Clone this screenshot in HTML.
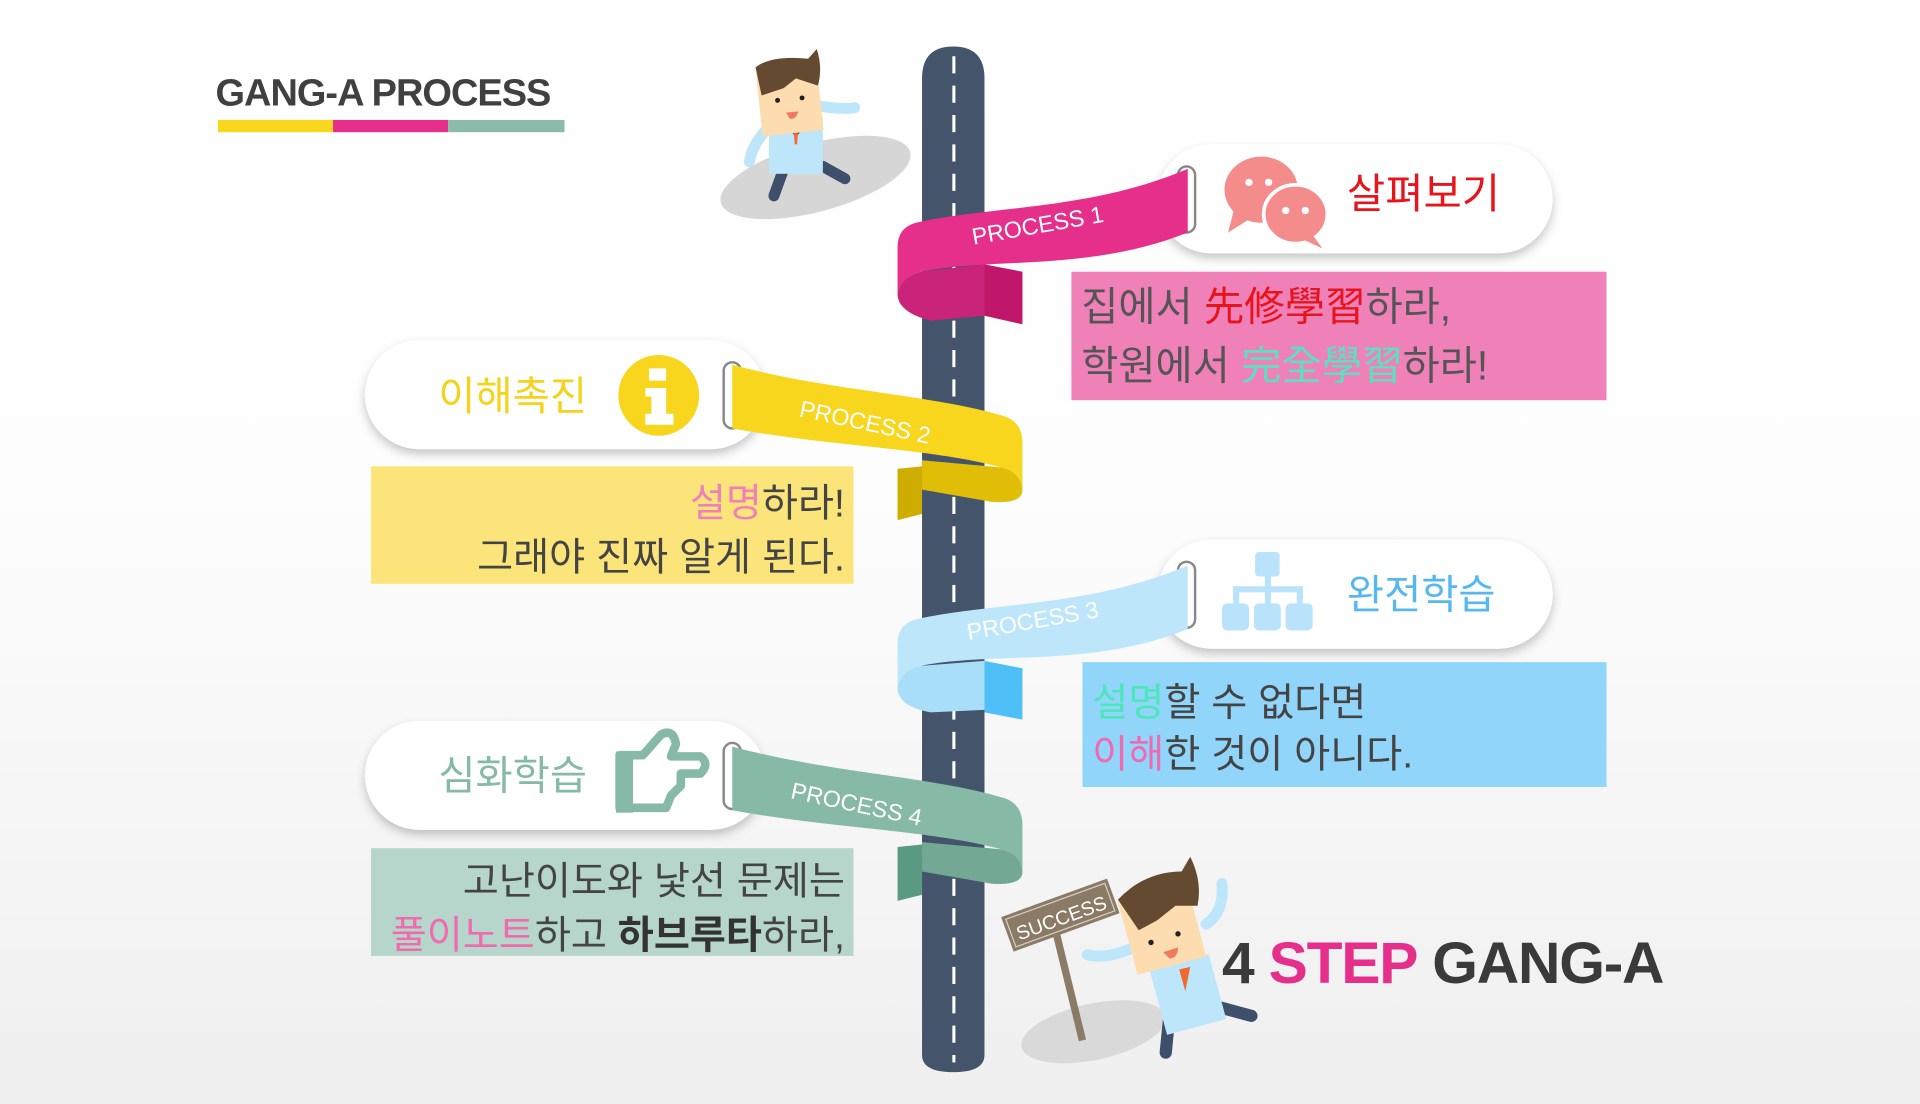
<!DOCTYPE html>
<html><head><meta charset="utf-8"><style>
html,body{margin:0;padding:0;width:1920px;height:1104px;overflow:hidden;background:#fff}
svg{display:block}
text{font-family:"Liberation Sans","Noto Sans CJK KR",sans-serif}
</style></head><body>
<svg width="1920" height="1104" viewBox="0 0 1568 902" preserveAspectRatio="none" xmlns="http://www.w3.org/2000/svg">
<defs>
<linearGradient id="bg" x1="0" y1="0" x2="0" y2="1"><stop offset="0" stop-color="#ffffff"/><stop offset="0.45" stop-color="#fdfdfd"/><stop offset="1" stop-color="#efefef"/></linearGradient>
<filter id="sh" x="-10%" y="-20%" width="120%" height="150%"><feDropShadow dx="0" dy="4" stdDeviation="4" flood-color="#000" flood-opacity="0.22"/></filter>
</defs>
<rect width="1568" height="902" fill="url(#bg)"/>

<text x="176" y="86" font-size="31" font-weight="bold" fill="#404040" letter-spacing="-0.8">GANG-A PROCESS</text>
<rect x="178" y="98" width="94" height="10" fill="#f9d71c"/>
<rect x="272" y="98" width="94" height="10" fill="#e62f8a"/>
<rect x="366" y="98" width="95" height="10" fill="#8bbcab"/>

<ellipse cx="666" cy="145" rx="80" ry="28" fill="#d6d6d6" transform="rotate(-15 666 145)"/>
<ellipse cx="893" cy="843" rx="60" ry="23" fill="#d9d9d9" transform="rotate(-12 893 843)"/>

<path d="M804,216 L835,222 L835,265 L804,258 Z" fill="#c0176a"/>
<path d="M733,383 L753,381 L753,420 L733,425 Z" fill="#cfad00"/>
<path d="M804,540 L835,546 L835,588 L804,582 Z" fill="#4fc0f7"/>
<path d="M733,692 L753,690 L753,731 L733,736 Z" fill="#5a9a82"/>

<path d="M753,64 Q753,38 778.5,38 Q804,38 804,64 L804,862 Q804,876 778.5,876 Q753,876 753,862 Z" fill="#44546a"/>
<line x1="779" y1="46" x2="779" y2="868" stroke="#fff" stroke-width="2.5" stroke-dasharray="14,10"/>

<g filter="url(#sh)">
<rect x="945" y="118" width="323" height="89" rx="44.5" fill="#fff"/>
<rect x="298" y="278" width="327" height="89" rx="44.5" fill="#fff"/>
<rect x="945" y="441" width="323" height="89" rx="44.5" fill="#fff"/>
<rect x="298" y="589" width="327" height="89" rx="44.5" fill="#fff"/>
</g>

<g fill="#fff" stroke="#888" stroke-width="2">
<rect x="962" y="136" width="14" height="54" rx="7"/>
<rect x="591" y="296" width="14" height="54" rx="7"/>
<rect x="962" y="459" width="14" height="54" rx="7"/>
<rect x="591" y="607" width="14" height="54" rx="7"/>
</g>

<path d="M970,138 C890,172 810,168 748,182 Q733,186 733,202 L733,240 Q735,226 752,222 C812,210 890,222 970,190 Z" fill="#e62f8a"/>
<path d="M733,240 Q733,255 760,262 L804,258 L804,216 L752,222 Q735,226 733,240 Z" fill="#c9237a"/>
<text x="795" y="200" font-size="19" fill="#fff" transform="rotate(-10 795 200)">PROCESS 1</text>

<path d="M598,298 C680,320 760,322 820,340 Q835,345 835,362 L835,400 Q834,386 818,382 C760,366 680,365 598,350 Z" fill="#f8d61e"/>
<path d="M835,400 Q835,412 810,410 L753,400 L753,376 L818,382 Q834,386 835,400 Z" fill="#e0bd07"/>
<text x="652" y="340" font-size="19" fill="#fff" transform="rotate(12 652 340)">PROCESS 2</text>

<path d="M970,462 C890,496 810,492 748,506 Q733,510 733,526 L733,562 Q735,548 752,544 C812,532 890,546 970,514 Z" fill="#bde6fb"/>
<path d="M733,562 Q733,577 760,582 L804,580 L804,540 L752,544 Q735,548 733,562 Z" fill="#a9def9"/>
<text x="791" y="523" font-size="19" fill="#fff" transform="rotate(-10 791 523)">PROCESS 3</text>

<path d="M598,610 C680,632 760,634 820,652 Q835,657 835,674 L835,712 Q834,698 818,694 C760,678 680,677 598,662 Z" fill="#86b9a6"/>
<path d="M835,712 Q835,724 810,722 L753,712 L753,688 L818,694 Q834,698 835,712 Z" fill="#73a894"/>
<text x="645" y="652" font-size="19" fill="#fff" transform="rotate(12 645 652)">PROCESS 4</text>

<g fill="#f58c8c">
<ellipse cx="1030" cy="155" rx="30" ry="27"/><path d="M1008,170 L1003,190 L1022,178 Z"/>
<ellipse cx="1058" cy="175" rx="26" ry="24" stroke="#fff" stroke-width="3"/><path d="M1072,192 L1080,203 L1065,196 Z"/>
</g>
<g fill="#fff"><circle cx="1020" cy="149" r="3"/><circle cx="1036" cy="149" r="3"/><circle cx="1050" cy="172" r="3"/><circle cx="1066" cy="172" r="3"/></g>
<text x="1100" y="170" font-size="34" fill="#e8141c">살펴보기</text>

<circle cx="538" cy="323" r="33" fill="#f8d61e"/>
<rect x="530" y="301" width="14" height="10" fill="#fff"/>
<path d="M527,317 L544,317 L544,338 L550,338 L550,347 L527,347 L527,338 L532,338 L532,324 L527,324 Z" fill="#fff"/>
<text x="358" y="335" font-size="33" fill="#f5d31a">이해촉진</text>

<g fill="#b9e3fb">
<rect x="1025" y="451" width="20" height="20" rx="3"/>
<rect x="998" y="493" width="22" height="22" rx="4"/><rect x="1024" y="493" width="22" height="22" rx="4"/><rect x="1050" y="493" width="22" height="22" rx="4"/>
<rect x="1033" y="469" width="5" height="26"/>
<rect x="1007" y="479" width="57" height="5"/><rect x="1007" y="479" width="5" height="15"/><rect x="1059" y="479" width="5" height="15"/>
</g>
<text x="1100" y="497" font-size="33" fill="#56b8ee">완전학습</text>

<path d="M506,617 L525,617 L540,600 Q550,595 552,608 L548,618 L572,618 Q580,624 572,632 L556,632 L556,642 L548,650 L544,660 L506,660 Z" fill="none" stroke="#86b9a8" stroke-width="7" stroke-linejoin="round"/>
<rect x="503" y="614" width="14" height="50" fill="#86b9a8"/>
<text x="358" y="645" font-size="33" fill="#86b9a8">심화학습</text>

<rect x="875" y="222" width="437" height="105" fill="#f080b8"/>
<text x="883" y="262" font-size="33" fill="#555"><tspan>집에서 </tspan><tspan fill="#e8141c">先修學習</tspan><tspan>하라,</tspan></text>
<text x="883" y="310" font-size="33" fill="#555"><tspan>학원에서 </tspan><tspan fill="#5de0c0">完全學習</tspan><tspan>하라!</tspan></text>

<rect x="303" y="381" width="394" height="96" fill="#fbe57a"/>
<text x="690" y="422" font-size="32" fill="#444" text-anchor="end"><tspan fill="#f080b8">설명</tspan><tspan>하라!</tspan></text>
<text x="690" y="466" font-size="32" fill="#444" text-anchor="end">그래야 진짜 알게 된다.</text>

<rect x="884" y="541" width="428" height="102" fill="#91d5fb"/>
<text x="892" y="585" font-size="32" fill="#444"><tspan fill="#4ee6b8">설명</tspan><tspan>할 수 없다면</tspan></text>
<text x="892" y="627" font-size="32" fill="#444"><tspan fill="#f06aae">이해</tspan><tspan>한 것이 아니다.</tspan></text>

<rect x="303" y="693" width="394" height="88" fill="#b6d5cb"/>
<text x="690" y="731" font-size="32" fill="#444" text-anchor="end">고난이도와 낯선 문제는</text>
<text x="690" y="775" font-size="32" fill="#444" text-anchor="end"><tspan fill="#f06aae">풀이노트</tspan><tspan>하고 </tspan><tspan font-weight="bold" fill="#333">하브루타</tspan><tspan>하라,</tspan></text>

<g>
<path d="M655,85 Q690,90 698,88" stroke="#bde6fb" stroke-width="9" fill="none" stroke-linecap="round"/>
<path d="M632,100 Q615,115 612,132" stroke="#bde6fb" stroke-width="9" fill="none" stroke-linecap="round"/>
<path d="M640,138 L632,160 M672,136 L690,146" stroke="#3d4f6b" stroke-width="9" stroke-linecap="round"/>
<rect x="628" y="96" width="44" height="46" fill="#bde6fb"/>
<path d="M640,100 L650,112 L660,100 Z" fill="#333"/><path d="M648,102 L652,102 L651,118 L649,118 Z" fill="#f06a30"/>
<rect x="620" y="57" width="50" height="52" fill="#fddcb0" transform="rotate(-6 645 83)"/>
<path d="M617,55 Q630,45 660,48 L667,40 Q672,55 668,70 L650,64 L640,72 L622,78 Z" fill="#654a32"/>
<circle cx="635" cy="82" r="2" fill="#222"/><circle cx="655" cy="80" r="2" fill="#222"/>
<path d="M642,92 L652,91 Q650,98 645,97 Z" fill="#f07a60"/>
</g>

<line x1="862" y1="760" x2="884" y2="850" stroke="#8a7a66" stroke-width="6"/>
<g transform="rotate(-20 865 748)">
<rect x="820" y="733" width="92" height="30" fill="#8a7a66"/>
<rect x="823" y="736" width="86" height="24" fill="none" stroke="#d8cfc4" stroke-width="1"/>
<text x="866" y="756" font-size="16" fill="#fff" text-anchor="middle">SUCCESS</text>
</g>

<g>
<path d="M935,770 Q905,785 888,780" stroke="#bde6fb" stroke-width="9" fill="none" stroke-linecap="round"/>
<path d="M985,755 Q1000,745 998,722" stroke="#bde6fb" stroke-width="9" fill="none" stroke-linecap="round"/>
<path d="M955,830 L952,860 M985,820 L1022,830" stroke="#3d4f6b" stroke-width="10" stroke-linecap="round"/>
<rect x="945" y="785" width="50" height="55" fill="#bde6fb" transform="rotate(-15 970 812)"/>
<rect x="920" y="728" width="58" height="62" fill="#fddcb0" transform="rotate(-15 949 759)"/>
<path d="M913,735 Q935,712 965,712 L972,700 Q982,720 978,740 L960,740 L945,752 L930,760 Z" fill="#654a32"/>
<circle cx="940" cy="770" r="2.2" fill="#222"/><circle cx="962" cy="763" r="2.2" fill="#222"/>
<path d="M950,778 L962,774 Q962,783 955,783 Z" fill="#f07a60"/>
<path d="M963,792 L968,810 L972,790 Z" fill="#f06a30"/>
</g>

<text x="998" y="803" font-size="48" font-weight="bold" fill="#3a3a3a" letter-spacing="-1"><tspan>4 </tspan><tspan fill="#e62f8a">STEP</tspan><tspan> GANG-A</tspan></text>
</svg>
</body></html>
